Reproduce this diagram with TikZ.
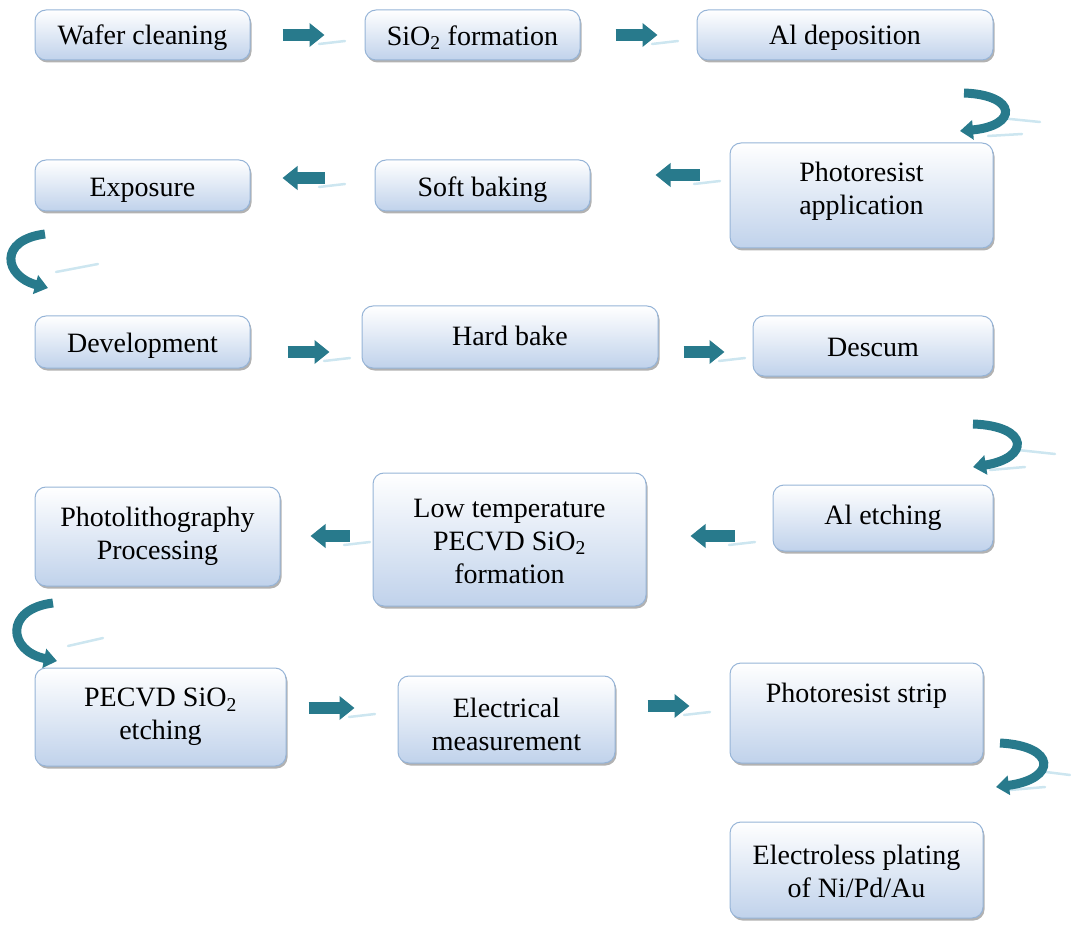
\documentclass[tikz,border=0pt]{standalone}
\usepackage{fontspec}
\setmainfont{Liberation Serif}
\usetikzlibrary{arrows.meta,shadows,calc}
\definecolor{boxedge}{RGB}{150,180,215}
\definecolor{boxbot}{RGB}{192,210,235}
\definecolor{teal1}{RGB}{40,122,140}
\definecolor{streakc}{RGB}{205,230,240}
\tikzset{
  box/.style={draw=boxedge, line width=1pt, rounded corners=11pt,
    top color=white, bottom color=boxbot, inner sep=0pt,
    drop shadow={shadow xshift=1.5pt, shadow yshift=-2.5pt, fill=black!55, opacity=0.55}},
  boxtext/.style={inner sep=0pt, align=center, font=\fontsize{28}{33}\selectfont},
  flow/.style={draw=teal1, line width=12pt, -{Triangle[width=23pt,length=15pt]}},
  uturn/.style={draw=teal1, line width=9pt, -{Triangle[width=19pt,length=13pt]}},
  streak/.style={draw=streakc, line width=2.5pt, line cap=round}
}
\begin{document}
\begin{tikzpicture}[x=1pt,y=-1pt]
\useasboundingbox (0,0) rectangle (1071,925);
% boxes
\node[box, minimum width=215pt, minimum height=50pt, label={[boxtext,yshift=-3pt]center:Wafer cleaning}] (wafer) at (142.5,35) {};
\node[box, minimum width=215pt, minimum height=50pt, label={[boxtext,yshift=-2.5pt]center:SiO\textsubscript{2} formation}] (sio) at (472.5,35) {};
\node[box, minimum width=296pt, minimum height=50pt, label={[boxtext,yshift=-3pt]center:Al deposition}] (aldep) at (845,35) {};
\node[box, minimum width=263pt, minimum height=105pt, label={[boxtext,yshift=4pt]center:Photoresist\\application}] (pra) at (861.5,195.5) {};
\node[box, minimum width=215pt, minimum height=51pt, label={[boxtext,yshift=-4.5pt]center:Soft baking}] (soft) at (482.5,185.5) {};
\node[box, minimum width=215pt, minimum height=51pt, label={[boxtext,yshift=-4.5pt]center:Exposure}] (expo) at (142.5,185.5) {};
\node[box, minimum width=215pt, minimum height=52pt, label={[boxtext,yshift=-4pt]center:Development}] (dev) at (142.5,342) {};
\node[box, minimum width=296pt, minimum height=62pt, label={[boxtext,yshift=1pt]center:Hard bake}] (hard) at (510,337) {};
\node[box, minimum width=240pt, minimum height=60pt, label={[boxtext,yshift=-1pt]center:Descum}] (descum) at (873,346) {};
\node[box, minimum width=245pt, minimum height=99pt, label={[boxtext,yshift=0.5pt]center:Photolithography\\Processing}] (plp) at (157.5,536.5) {};
\node[box, minimum width=273pt, minimum height=133pt, label={[boxtext,yshift=-2pt]center:Low temperature\\PECVD SiO\textsubscript{2}\\formation}] (lowt) at (509.5,539.5) {};
\node[box, minimum width=220pt, minimum height=66pt, label={[boxtext]center:Al etching}] (aletch) at (883,518) {};
\node[box, minimum width=251pt, minimum height=98pt, label={[boxtext]center:PECVD SiO\textsubscript{2}\\etching}] (pecvd) at (160.5,717) {};
\node[box, minimum width=217pt, minimum height=87pt, label={[boxtext,yshift=-5pt]center:Electrical\\measurement}] (elec) at (506.5,719.5) {};
\node[box, minimum width=253pt, minimum height=100pt, label={[boxtext,yshift=17pt]center:Photoresist strip}] (prs) at (856.5,713) {};
\node[box, minimum width=253pt, minimum height=96pt, label={[boxtext,yshift=-1pt]center:Electroless plating\\of Ni/Pd/Au}] (elp) at (856.5,870) {};
% reflections of straight arrows
\foreach \a/\b/\y in {282/325/35, 615/658/35, 287/330/352, 683/725/352, 310/355/708, 647/690/706}{
  \draw[streak] (\b-6,\y+9) -- (\b+20,\y+6);
}
\foreach \a/\b/\y in {700/655/175, 325/282/178, 735/690/536, 350/310/536}{
  \draw[streak] (\a-6,\y+9) -- (\a+20,\y+6);
}
% straight arrows
\draw[flow] ($(wafer.east |- 0,35)+(32,0)$) -- ($(sio.west |- 0,35)+(-40,0)$);
\draw[flow] ($(sio.east |- 0,35)+(35,0)$) -- ($(aldep.west |- 0,35)+(-39,0)$);
\draw[flow] ($(pra.west |- 0,175)+(-30,0)$) -- ($(soft.east |- 0,175)+(65,0)$);
\draw[flow] ($(soft.west |- 0,178)+(-50,0)$) -- ($(expo.east |- 0,178)+(32,0)$);
\draw[flow] ($(dev.east |- 0,352)+(37,0)$) -- ($(hard.west |- 0,352)+(-32,0)$);
\draw[flow] ($(hard.east |- 0,352)+(25,0)$) -- ($(descum.west |- 0,352)+(-28,0)$);
\draw[flow] ($(aletch.west |- 0,536)+(-38,0)$) -- ($(lowt.east |- 0,536)+(44,0)$);
\draw[flow] ($(lowt.west |- 0,536)+(-23,0)$) -- ($(plp.east |- 0,536)+(30,0)$);
\draw[flow] ($(pecvd.east |- 0,708)+(22,0)$) -- ($(elec.west |- 0,708)+(-43,0)$);
\draw[flow] ($(elec.east |- 0,706)+(32,0)$) -- ($(prs.west |- 0,706)+(-40,0)$);
% U-turn arrows
\coordinate (r1s) at (964,93);
\coordinate (r1e) at (960,131);
\draw[streak] (1000,118) -- (1040,122);
\draw[streak] (988,136) -- (1022,134);
\draw[uturn] (r1s) .. controls (1018,95) and (1018,126) .. (r1e);
\coordinate (l1s) at (45,234);
\coordinate (l1e) at (48,288);
\draw[streak] (56,272) -- (98,264);
\draw[uturn] (l1s) .. controls (-2,240) and (4,276) .. (l1e);
\coordinate (r2s) at (973,424);
\coordinate (r2e) at (973,467);
\draw[streak] (1018,450) -- (1055,454);
\draw[streak] (990,470) -- (1025,467);
\draw[uturn] (r2s) .. controls (1030,426) and (1030,458) .. (r2e);
\coordinate (l2s) at (53,603);
\coordinate (l2e) at (57,661);
\draw[streak] (68,646) -- (103,638);
\draw[uturn] (l2s) .. controls (4,609) and (8,651) .. (l2e);
\coordinate (r3s) at (1000,743);
\coordinate (r3e) at (996,787);
\draw[streak] (1038,771) -- (1070,775);
\draw[streak] (1010,790) -- (1045,787);
\draw[uturn] (r3s) .. controls (1057,746) and (1057,779) .. (r3e);
\end{tikzpicture}
\end{document}
